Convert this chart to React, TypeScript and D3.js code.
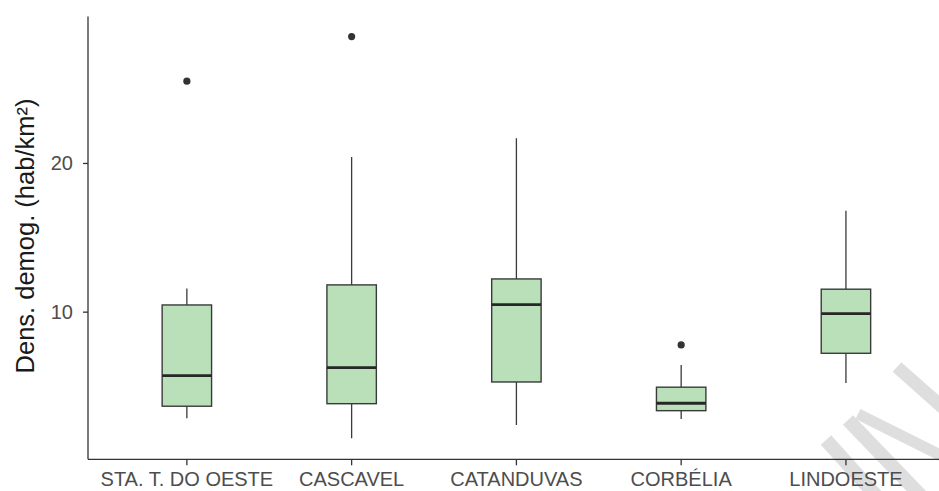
import { useEffect, useRef } from 'react';
import * as d3 from 'd3';

// Five-number summaries
const municipios = ['STA. T. DO OESTE', 'CASCAVEL', 'CATANDUVAS', 'CORBÉLIA', 'LINDOESTE'];
const whiskerLow = [2.83, 1.49, 2.38, 2.78, 5.2];
const q1 = [3.64, 3.81, 5.27, 3.34, 7.2];
const median = [5.7, 6.23, 10.47, 3.84, 9.87];
const q3 = [10.45, 11.8, 12.2, 4.92, 11.51];
const whiskerHigh = [11.55, 20.4, 21.66, 6.42, 16.79];
const outliers: number[][] = [[25.5], [28.5], [], [7.76], []];

const yTicks = [10, 20];
const yLabel = 'Dens. demog. (hab/km²)';

export default function App() {
  const svgRef = useRef<SVGSVGElement>(null);

  useEffect(() => {
    document.body.style.margin = '0';
    if (!svgRef.current) return;

    const W = 939;
    const H = 491;
    const svg = d3.select(svgRef.current).attr('width', W).attr('height', H);
    svg.selectAll('*').remove();

    const font = '"Liberation Sans", Arial, sans-serif';

    // scales (ggplot-like expansion)
    const x = d3.scaleBand<string>().domain(municipios).range([88, 944.8]).paddingInner(0).paddingOuter(0.1);
    const y = d3.scaleLinear().domain([0.07, 29.85]).range([459.3, 16.5]);
    const bw = x.bandwidth() * 0.3;
    const cx = (i: number) => (x(municipios[i]) ?? 0) + x.bandwidth() / 2;

    // faint watermark stripes in the lower right
    const wm = svg.append('g').attr('stroke', '#dedede').attr('stroke-linecap', 'butt').attr('fill', 'none');
    wm.append('line').attr('x1', 897).attr('y1', 367).attr('x2', 950).attr('y2', 414).attr('stroke-width', 13);
    wm.append('line').attr('x1', 858).attr('y1', 414).attr('x2', 950).attr('y2', 460).attr('stroke-width', 11);
    wm.append('line').attr('x1', 848).attr('y1', 420).attr('x2', 925).attr('y2', 500).attr('stroke-width', 14);
    wm.append('line').attr('x1', 826).attr('y1', 440).attr('x2', 880).attr('y2', 500).attr('stroke-width', 14);

    const g = svg.append('g');

    // whiskers
    g.selectAll('line.wh')
      .data(municipios)
      .join('line')
      .attr('class', 'wh')
      .attr('x1', (_, i) => cx(i))
      .attr('x2', (_, i) => cx(i))
      .attr('y1', (_, i) => y(whiskerLow[i]))
      .attr('y2', (_, i) => y(whiskerHigh[i]))
      .attr('stroke', '#3a3a3a')
      .attr('stroke-width', 1.3);

    // boxes
    g.selectAll('rect.box')
      .data(municipios)
      .join('rect')
      .attr('class', 'box')
      .attr('x', (_, i) => cx(i) - bw / 2)
      .attr('width', bw)
      .attr('y', (_, i) => y(q3[i]))
      .attr('height', (_, i) => y(q1[i]) - y(q3[i]))
      .attr('fill', '#bae0ba')
      .attr('stroke', '#3a3a3a')
      .attr('stroke-width', 1.4);

    // medians
    g.selectAll('line.med')
      .data(municipios)
      .join('line')
      .attr('class', 'med')
      .attr('x1', (_, i) => cx(i) - bw / 2)
      .attr('x2', (_, i) => cx(i) + bw / 2)
      .attr('y1', (_, i) => y(median[i]))
      .attr('y2', (_, i) => y(median[i]))
      .attr('stroke', '#262626')
      .attr('stroke-width', 2.8);

    // outliers
    const pts = outliers.flatMap((vals, i) => vals.map((v) => ({ i, v })));
    g.selectAll('circle.out')
      .data(pts)
      .join('circle')
      .attr('class', 'out')
      .attr('cx', (d) => cx(d.i))
      .attr('cy', (d) => y(d.v))
      .attr('r', 3.6)
      .attr('fill', '#333');

    // axes
    const xAxis = svg
      .append('g')
      .attr('transform', 'translate(0,459.3)')
      .call(d3.axisBottom(x).tickSize(6).tickPadding(6.5).tickSizeOuter(0));
    const yAxis = svg
      .append('g')
      .attr('transform', 'translate(88,0)')
      .call(d3.axisLeft(y).tickValues(yTicks).tickSize(5).tickPadding(10).tickSizeOuter(0));

    [xAxis, yAxis].forEach((a) => {
      a.select('.domain').attr('stroke', '#333').attr('stroke-width', 1.3);
      a.selectAll('.tick line').attr('stroke', '#333').attr('stroke-width', 1.3);
      a.selectAll('.tick text').attr('fill', '#4d4d4d').attr('font-family', font).attr('font-size', 20);
    });
    xAxis.select('.domain').attr('d', 'M88,0H939');
    yAxis.select('.domain').attr('d', 'M0,16.5V459.3');

    // y-axis title
    svg
      .append('text')
      .attr('transform', `translate(33.5,${(98 + 374) / 2}) rotate(-90)`)
      .attr('text-anchor', 'middle')
      .attr('font-family', font)
      .attr('font-size', 25.5)
      .attr('fill', '#1a1a1a')
      .text(yLabel);
  }, []);

  return <svg ref={svgRef} style={{ display: 'block' }} />;
}
